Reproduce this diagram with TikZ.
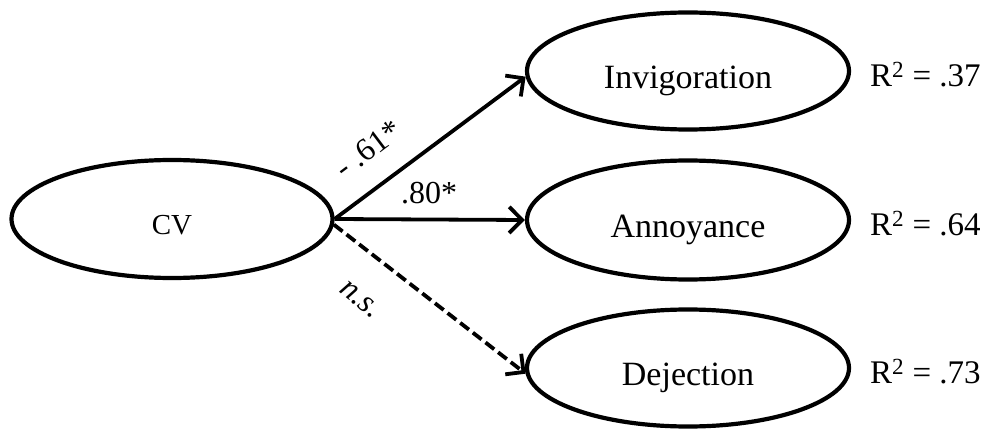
\documentclass[tikz,border=0pt]{standalone}
\usepackage{fontspec}
\setmainfont{Liberation Serif}
\usetikzlibrary{shapes.geometric,arrows.meta}
\begin{document}
\begin{tikzpicture}[x=1pt,y=1pt,
  latent/.style={ellipse,draw,line width=4.2pt,minimum width=322pt,minimum height=117pt,inner sep=0pt,
    text height=34.5pt,text depth=0pt,font=\fontsize{34}{38}\selectfont},
  path/.style={line width=3.8pt,-{Straight Barb[length=13pt,width=26pt,line width=3.8pt]}},
  ns/.style={path,dash pattern=on 11pt off 5pt},
  coef/.style={font=\fontsize{32}{36}\selectfont,inner sep=0pt},
  rsq/.style={font=\fontsize{33}{36}\selectfont,anchor=west,inner sep=0pt}]
\useasboundingbox (0,0) rectangle (987,-430);
\node[latent,minimum width=321pt,minimum height=118pt,text height=31pt,font=\fontsize{29}{34}\selectfont] (cv) at (172,-219) {CV};
\node[latent] (inv) at (688,-71) {Invigoration};
\node[latent,minimum height=119pt] (ann) at (688,-220) {Annoyance};
\node[latent] (dej) at (688,-368) {Dejection};
\node[rsq] (r1) at (870,-75) {R\textsuperscript{2} = .37};
\node[rsq] (r2) at (870,-224) {R\textsuperscript{2} = .64};
\node[rsq] (r3) at (870,-372) {R\textsuperscript{2} = .73};
\draw[path] (cv.east) -- (inv.182);
\draw[path] (cv.east) -- (ann.west);
\draw[ns] (cv.-2) -- (dej.182);
\node[coef,rotate=37] (l1) at (368,-149) {- .61*};
\node[coef] (l2) at (429,-193) {.80*};
\node[coef,rotate=-38.5,font=\fontsize{32}{36}\selectfont\itshape] (l3) at (360,-300) {n.s.};
\end{tikzpicture}
\end{document}
